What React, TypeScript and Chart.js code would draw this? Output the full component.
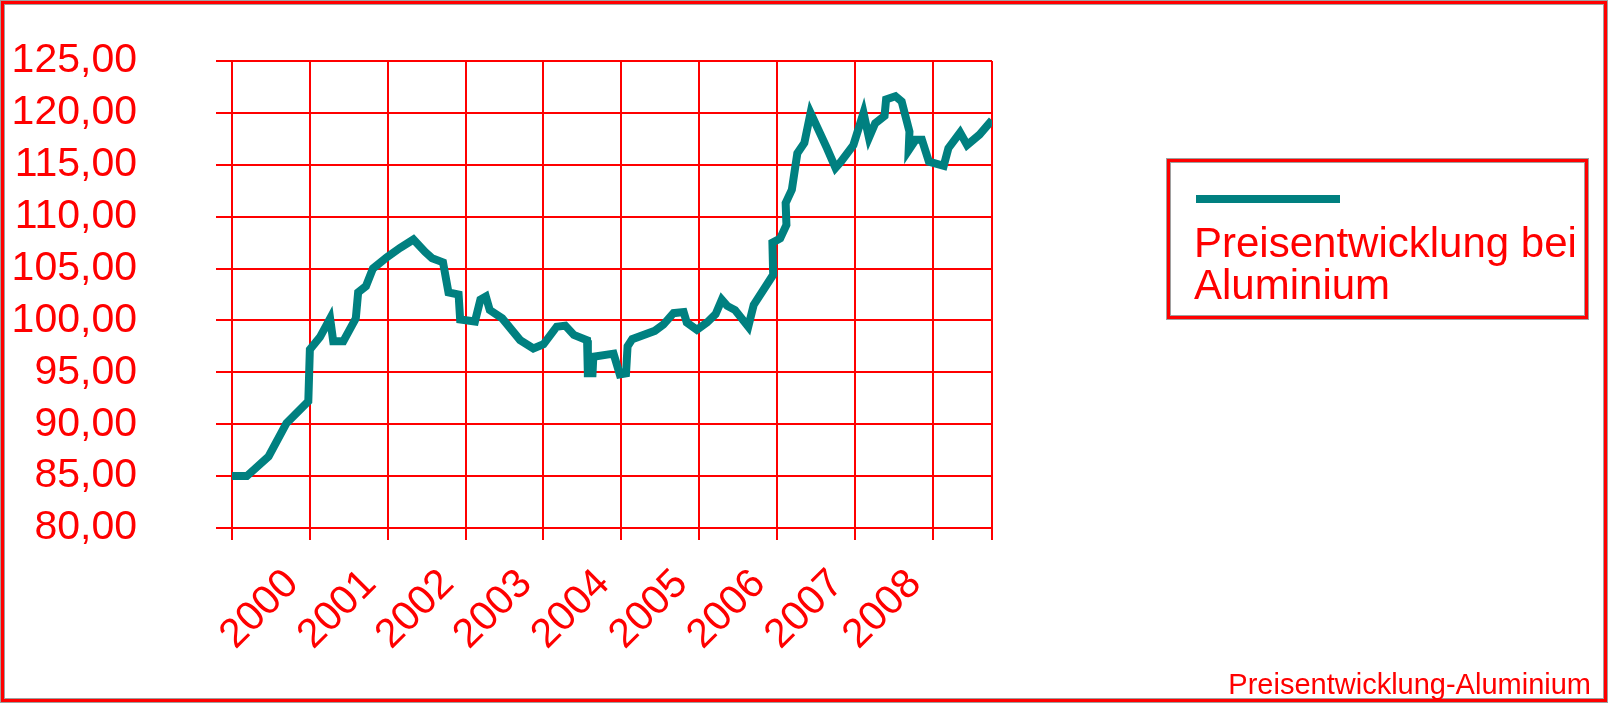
import React, { useEffect, useRef } from "react";
import { Chart, registerables } from "chart.js";

Chart.register(...registerables);

// ---- Data ----
const years: number[] = [
  2000.0, 2000.19, 2000.47, 2000.7, 2000.98, 2001.0, 2001.13, 2001.26, 2001.3, 2001.43,
  2001.59, 2001.62, 2001.72, 2001.81, 2001.99, 2002.16, 2002.33, 2002.48, 2002.57, 2002.71,
  2002.78, 2002.91, 2002.93, 2003.12, 2003.19, 2003.26, 2003.31, 2003.47, 2003.7, 2003.87,
  2004.0, 2004.17, 2004.28, 2004.39, 2004.56, 2004.57, 2004.63, 2004.64, 2004.9, 2004.98,
  2005.06, 2005.08, 2005.14, 2005.43, 2005.54, 2005.67, 2005.8, 2005.84, 2005.97, 2006.1,
  2006.21, 2006.29, 2006.36, 2006.46, 2006.63, 2006.7, 2006.95, 2006.94, 2007.04, 2007.12,
  2007.11, 2007.19, 2007.26, 2007.35, 2007.43, 2007.64, 2007.75, 2007.82, 2007.98, 2008.11,
  2008.18, 2008.26, 2008.38, 2008.4, 2008.52, 2008.6, 2008.7, 2008.69, 2008.78, 2008.86,
  2008.95, 2009.14, 2009.2, 2009.35, 2009.44, 2009.6, 2009.76,
];
const prices: number[] = [
  85.0, 85.0, 86.9, 90.1, 92.2, 97.2, 98.4, 100.2, 98.0, 98.0,
  100.2, 102.7, 103.3, 105.0, 106.1, 107.0, 107.8, 106.6, 106.0, 105.6,
  102.7, 102.5, 100.1, 99.9, 102.0, 102.3, 101.0, 100.2, 98.1, 97.3,
  97.7, 99.4, 99.5, 98.6, 98.1, 94.9, 94.9, 96.5, 96.8, 94.8,
  94.9, 97.5, 98.2, 99.0, 99.6, 100.7, 100.8, 99.8, 99.1, 99.8,
  100.6, 102.0, 101.4, 101.0, 99.4, 101.5, 104.4, 107.5, 107.9, 109.2,
  111.3, 112.6, 116.1, 117.1, 120.0, 116.6, 114.7, 115.3, 116.9, 120.0,
  117.6, 119.0, 119.7, 121.3, 121.6, 121.1, 118.2, 116.4, 117.4, 117.4,
  115.3, 114.9, 116.6, 118.1, 116.9, 117.9, 119.3,
];
const gridYears: number[] = [2000, 2001, 2002, 2003, 2004, 2005, 2006, 2007, 2008, 2009];
const yearLabels: string[] = ["2000", "2001", "2002", "2003", "2004", "2005", "2006", "2007", "2008"];
const xMin = 2000;
const xMax = 2009.76;
const yMin = 80;
const yMax = 125;
const yStep = 5;
const seriesName = "Preisentwicklung bei Aluminium";
const legendLines: string[] = ["Preisentwicklung bei", "Aluminium"];
const footerText = "Preisentwicklung-Aluminium";

// ---- Styles ----
const RED = "#ff0000";
const TEAL = "#008080";
const FONT = "'Liberation Sans', Arial, sans-serif";
const W = 1609;
const H = 705;

export default function App() {
  const canvasRef = useRef<HTMLCanvasElement | null>(null);

  useEffect(() => {
    if (!canvasRef.current) return;
    const chart = new Chart(canvasRef.current, {
      type: "line",
      data: {
        datasets: [
          {
            label: seriesName,
            data: years.map((x, i) => ({ x, y: prices[i] })),
            borderColor: TEAL,
            backgroundColor: TEAL,
            borderWidth: 8,
            pointRadius: 0,
            tension: 0,
            fill: false,
            borderJoinStyle: "miter",
          },
        ],
      },
      options: {
        responsive: false,
        animation: false,
        devicePixelRatio: 1,
        layout: { padding: { top: 61, right: 617, bottom: 0, left: 0 } },
        plugins: {
          legend: { display: false },
          tooltip: { enabled: false },
          title: { display: false },
        },
        scales: {
          x: {
            type: "linear",
            min: xMin,
            max: xMax,
            afterBuildTicks: (s: any) => {
              s.ticks = [...gridYears, xMax].map((v) => ({ value: v }));
            },
            afterFit: (s: any) => {
              s.height = H - 528;
            },
            grid: { color: RED, lineWidth: 2, tickLength: 12, drawTicks: true },
            border: { color: RED, width: 2 },
            ticks: {
              autoSkip: false,
              minRotation: 45,
              maxRotation: 45,
              labelOffset: 60,
              padding: 20,
              color: RED,
              font: { family: FONT, size: 41 },
              callback: (v: any) => {
                const s = String(v);
                return yearLabels.includes(s) ? s : "";
              },
            },
          },
          y: {
            min: yMin,
            max: yMax,
            afterFit: (s: any) => {
              s.width = 232;
              s.paddingTop = 0;
              s.paddingBottom = 0;
            },
            grid: { color: RED, lineWidth: 2, tickLength: 16, drawTicks: true },
            border: { color: RED, width: 2 },
            ticks: {
              autoSkip: false,
              stepSize: yStep,
              padding: 79,
              color: RED,
              font: { family: FONT, size: 41 },
              callback: (v: any) => Number(v).toFixed(2).replace(".", ","),
            },
          },
        },
      },
    });
    return () => chart.destroy();
  }, []);

  const shadow = "0 0 0 1px #a0a0a0, inset 0 0 0 1px #a0a0a0";

  return (
    <div
      style={{
        position: "absolute",
        left: 0,
        top: 0,
        width: W,
        height: H,
        background: "#ffffff",
        overflow: "hidden",
        fontFamily: FONT,
      }}
    >
      <canvas
        ref={canvasRef}
        width={W}
        height={H}
        style={{ position: "absolute", left: 0, top: 0, width: W, height: H }}
      />
      {/* outer frame */}
      <div
        style={{
          position: "absolute",
          left: 1,
          top: 1,
          width: 1606,
          height: 701,
          border: `3px solid ${RED}`,
          boxSizing: "border-box",
          boxShadow: shadow,
          pointerEvents: "none",
        }}
      />
      {/* legend */}
      <div
        style={{
          position: "absolute",
          left: 1167,
          top: 159,
          width: 421,
          height: 160,
          border: `3px solid ${RED}`,
          boxSizing: "border-box",
          boxShadow: shadow,
          background: "#ffffff",
        }}
      />
      <div
        style={{
          position: "absolute",
          left: 1196,
          top: 195,
          width: 144,
          height: 8,
          background: TEAL,
        }}
      />
      <div
        style={{
          position: "absolute",
          left: 1194,
          top: 222,
          fontSize: 42,
          lineHeight: "42px",
          color: RED,
          whiteSpace: "nowrap",
        }}
      >
        {legendLines.map((l, i) => (
          <div key={i}>{l}</div>
        ))}
      </div>
      {/* footer */}
      <div
        style={{
          position: "absolute",
          right: 18,
          top: 670,
          fontSize: 29,
          lineHeight: "29px",
          color: RED,
          whiteSpace: "nowrap",
        }}
      >
        {footerText}
      </div>
    </div>
  );
}
